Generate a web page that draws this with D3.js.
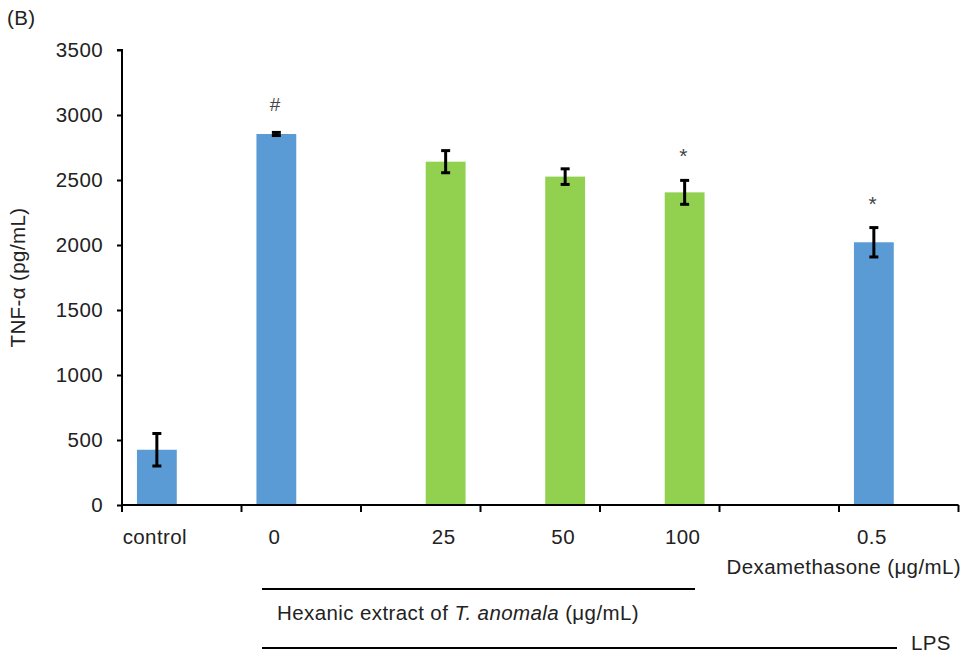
<!DOCTYPE html>
<html>
<head>
<meta charset="utf-8">
<script src="https://cdn.jsdelivr.net/npm/d3@7"></script>
<style>
  html, body { margin: 0; padding: 0; background: #fff; }
  svg { display: block; font-family: "Liberation Sans", Arial, sans-serif; }
  svg text { letter-spacing: 0.4px; }
</style>
</head>
<body>
<svg id="chart" width="971" height="656"></svg>
<script>
// ---- data ----
const categories = ["control", "0", "25", "50", "100", "", "0.5"];
const tickLabels = ["control", "0", "25", "50", "100", "", "0.5"];
const barCategories = ["control", "0", "25", "50", "100", "0.5"];
const barValues = [425, 2854, 2641, 2526, 2405, 2021];
const barErrors = [125, 12, 85, 60, 92, 113];
const barSeries = ["LPS", "LPS", "extract", "extract", "extract", "LPS"];
const annotations = [
  { category: "0", symbol: "#" },
  { category: "100", symbol: "*" },
  { category: "0.5", symbol: "*" }
];
const yTicks = [0, 500, 1000, 1500, 2000, 2500, 3000, 3500];

// ---- layout ----
const svg = d3.select("#chart");
const mLeft = 122, mRight = 958.5, mTop = 50, mBottom = 505;
const fontSize = "20.5px";
const colors = { LPS: "#5B9BD5", extract: "#92D050" };

const x = d3.scaleBand().domain(categories).range([mLeft, mRight]).padding(0);
const slot = d3.scaleBand().domain(["LPS", "extract"]).range([0, x.bandwidth()])
  .paddingInner(0.2).paddingOuter(0.3);
const y = d3.scaleLinear().domain([0, 3500]).range([mBottom, mTop]);

const bars = barCategories.map((c, i) => ({
  c, v: barValues[i], e: barErrors[i], s: barSeries[i]
}));
const barX = d => x(d.c) + slot(d.s);
const barCX = d => barX(d) + slot.bandwidth() / 2;

// bars
svg.append("g").selectAll("rect").data(bars).join("rect")
  .attr("x", barX)
  .attr("y", d => y(d.v))
  .attr("width", slot.bandwidth())
  .attr("height", d => y(0) - y(d.v))
  .attr("fill", d => colors[d.s]);

// error bars
const eg = svg.append("g").attr("stroke", "#000").attr("stroke-width", 3);
bars.forEach(d => {
  const cx = barCX(d);
  eg.append("line").attr("x1", cx).attr("x2", cx).attr("y1", y(d.v + d.e)).attr("y2", y(d.v - d.e));
  eg.append("line").attr("x1", cx - 4.5).attr("x2", cx + 4.5).attr("y1", y(d.v + d.e)).attr("y2", y(d.v + d.e));
  eg.append("line").attr("x1", cx - 4.5).attr("x2", cx + 4.5).attr("y1", y(d.v - d.e)).attr("y2", y(d.v - d.e));
});

// annotations
annotations.forEach(a => {
  const d = bars.find(b => b.c === a.category);
  svg.append("text")
    .attr("x", barCX(d) - 1)
    .attr("y", y(d.v + d.e) - (a.symbol === "#" ? 21 : 17))
    .attr("text-anchor", "middle")
    .attr("font-size", a.symbol === "#" ? "19px" : "21px")
    .attr("fill", "#444")
    .text(a.symbol);
});

// y axis
const yAxis = d3.axisLeft(y).tickValues(yTicks).tickSize(5).tickPadding(14).tickFormat(d3.format("d"));
const yg = svg.append("g").attr("transform", `translate(${mLeft},0)`).call(yAxis);
yg.select(".domain").attr("stroke", "#000").attr("stroke-width", 2).attr("d", `M-5,${mTop}H0V${mBottom}`);
yg.selectAll(".tick line").attr("stroke", "#000").attr("stroke-width", 2);
yg.selectAll(".tick text").attr("font-size", fontSize).attr("fill", "#222")
  .attr("font-family", "Liberation Sans, Arial, sans-serif");

// x axis: line + ticks at band boundaries
const xg = svg.append("g").attr("stroke", "#000").attr("stroke-width", 2);
xg.append("line").attr("x1", mLeft).attr("x2", mRight).attr("y1", mBottom).attr("y2", mBottom);
const boundaries = categories.map(c => x(c)).concat([x.range()[1]]);
xg.selectAll("line.tick").data(boundaries).join("line").attr("class", "tick")
  .attr("x1", d => d).attr("x2", d => d).attr("y1", mBottom).attr("y2", mBottom + 7);

// x labels
svg.append("g").selectAll("text").data(categories.map((c, i) => ({ c, t: tickLabels[i] })).filter(d => d.t !== ""))
  .join("text")
  .attr("x", d => {
    const b = bars.find(bb => bb.c === d.c);
    return barCX(b) - 2;
  })
  .attr("y", 544)
  .attr("text-anchor", "middle")
  .attr("font-size", fontSize)
  .attr("fill", "#222")
  .text(d => d.t);

// Dexamethasone label
svg.append("text").attr("x", 961).attr("y", 574).attr("text-anchor", "end")
  .attr("font-size", fontSize).attr("fill", "#222").text("Dexamethasone (μg/mL)");

// group lines
svg.append("line").attr("x1", 262).attr("x2", 695).attr("y1", 589).attr("y2", 589)
  .attr("stroke", "#000").attr("stroke-width", 2);
svg.append("line").attr("x1", 262).attr("x2", 897).attr("y1", 648).attr("y2", 648)
  .attr("stroke", "#000").attr("stroke-width", 2);

const hx = svg.append("text").attr("x", 277).attr("y", 620).attr("font-size", fontSize).attr("fill", "#222");
hx.append("tspan").text("Hexanic extract of ");
hx.append("tspan").attr("font-style", "italic").text("T. anomala");
hx.append("tspan").text(" (μg/mL)");

svg.append("text").attr("x", 911).attr("y", 650).attr("font-size", fontSize).attr("fill", "#222").text("LPS");

// y label
svg.append("text")
  .attr("transform", `translate(25,${(mTop + mBottom) / 2}) rotate(-90)`)
  .attr("text-anchor", "middle")
  .attr("font-size", fontSize).attr("fill", "#222")
  .text("TNF-α (pg/mL)");

// panel label
svg.append("text").attr("x", 7).attr("y", 25).attr("font-size", fontSize).attr("fill", "#222").text("(B)");
</script>
</body>
</html>
